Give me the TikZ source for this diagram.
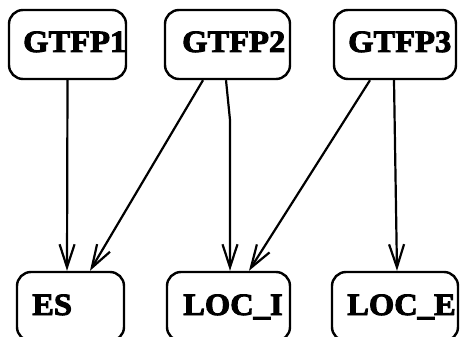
\documentclass[tikz,border=0pt]{standalone}
\usepackage{fontspec}
\setmainfont{Liberation Serif}
\newfontfamily\heavyfont[FakeBold=3]{Liberation Serif Bold}
\usetikzlibrary{arrows.meta,calc}
\begin{document}
\begin{tikzpicture}[x=1pt,y=-1pt,
  box/.style={draw,line width=2.4pt,rounded corners=14pt,inner sep=0pt},
  lbl/.style={anchor=base west,inner sep=0pt,font=\heavyfont\fontsize{31}{32}\selectfont},
  conn/.style={line width=2.2pt,-{Straight Barb[length=23pt,width=15pt]}}]
\useasboundingbox (0,0) rectangle (461,337);
\node[lbl] (t1) at (23,52) {\scalebox{1.05}[1]{GTFP1}};
\node[lbl] (t2) at (182,52) {\scalebox{1.05}[1]{GTFP2}};
\node[lbl] (t3) at (348,52) {\scalebox{1.05}[1]{GTFP3}};
\node[lbl] (t4) at (32,315) {\scalebox{1.05}[1]{ES}};
\node[lbl] (t5) at (183,315) {\scalebox{1.05}[1]{LOC\_I}};
\node[lbl] (t6) at (347,315) {\scalebox{1.05}[1]{LOC\_E}};
\node[box,minimum width=117pt,minimum height=69pt] (g1) at (67.5,44.5) {};
\node[box,minimum width=125pt,minimum height=69pt] (g2) at (227.5,44.5) {};
\node[box,minimum width=122pt,minimum height=69pt] (g3) at (395,44.5) {};
\node[box,minimum width=107pt,minimum height=69pt] (es) at (70.5,306.5) {};
\node[box,minimum width=123pt,minimum height=69pt] (li) at (228.5,306.5) {};
\node[box,minimum width=126pt,minimum height=69pt] (le) at (395,306.5) {};
\coordinate (bend) at (230,120);
\draw[conn] (g1.south) -- ([xshift=-3.5pt]es.north);
\draw[conn] ([xshift=-24.5pt]g2.south) -- ([xshift=19.5pt]es.north);
\draw[conn] ([xshift=-1.5pt]g2.south) -- (bend) -- ([xshift=1.5pt]li.north);
\draw[conn] ([xshift=-25pt]g3.south) -- ([xshift=20.5pt]li.north);
\draw[conn] ([xshift=-1pt]g3.south) -- ([xshift=2pt]le.north);
\end{tikzpicture}
\end{document}
